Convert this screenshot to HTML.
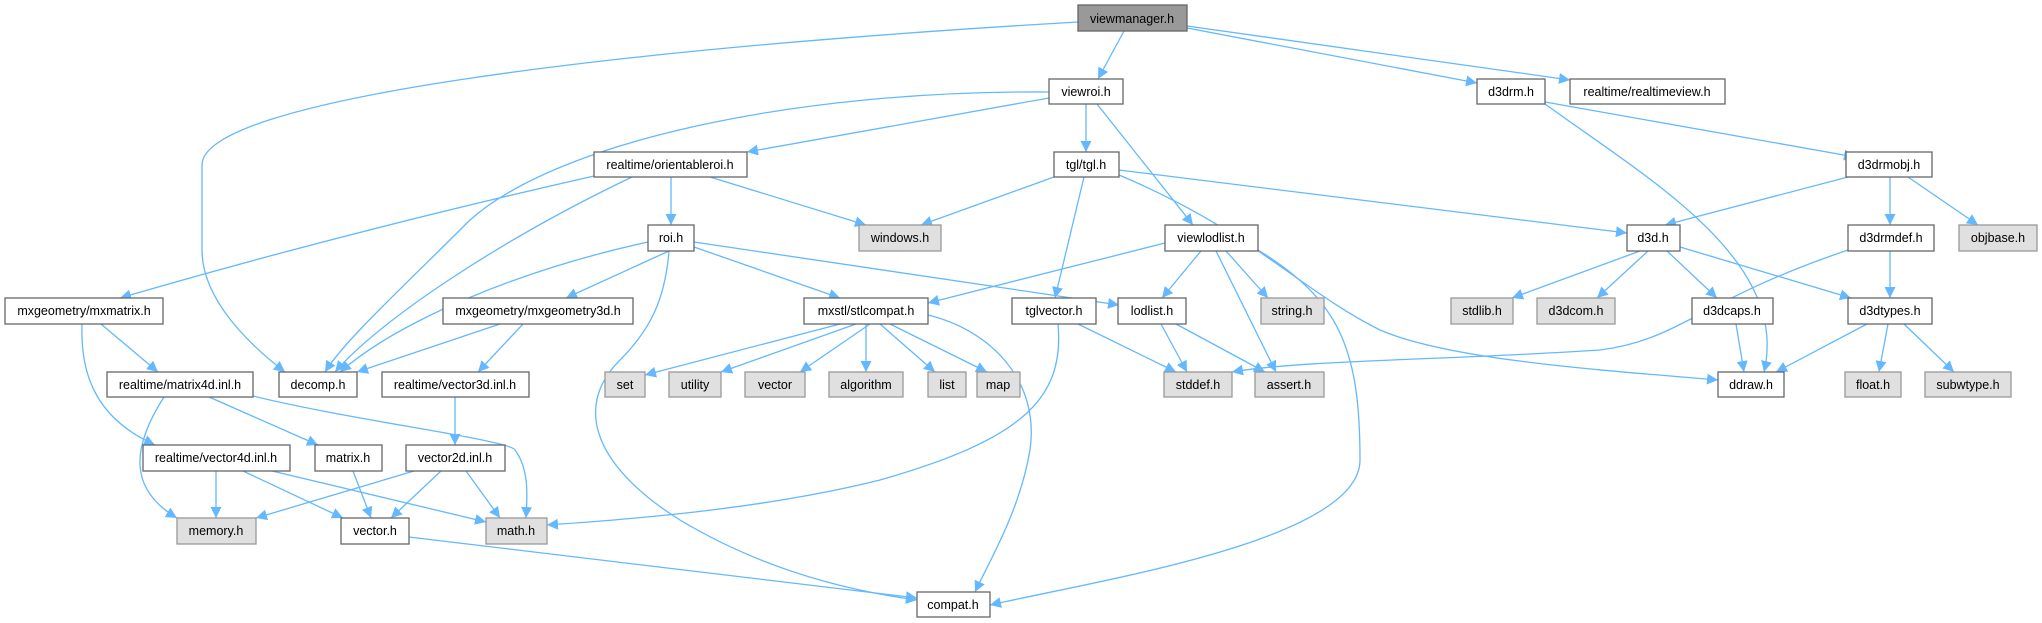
<!DOCTYPE html>
<html><head><meta charset="utf-8"><style>
body{margin:0;background:#fff;}
svg{display:block}
text{font-family:"Liberation Sans",Arial,sans-serif;font-size:12.5px;fill:#000;text-anchor:middle;}
.w{fill:#fff;stroke:#666;stroke-width:1.3}
.g{fill:#e0e0e0;stroke:#999;stroke-width:1.3}
.r{fill:#999;stroke:#666;stroke-width:1.3}
path.e{fill:none;stroke:#63b8ff;stroke-width:1.3;marker-end:url(#a)}
</style></head><body>
<svg width="2042" height="623" viewBox="0 0 2042 623" xmlns="http://www.w3.org/2000/svg">
<defs><marker id="a" viewBox="0 0 10 10" refX="10" refY="5" markerWidth="11" markerHeight="11" markerUnits="userSpaceOnUse" orient="auto"><path d="M0,0 L10,5 L0,10 z" fill="#63b8ff"/></marker></defs>
<g>
<path class="e" d="M1078,22 C600,50 202,100 202,165 L202,250 C202,300 250,345 285,372"/>
<path class="e" d="M1124,31 L1098,79"/>
<path class="e" d="M1187,28 L1477,83"/>
<path class="e" d="M1187,26 L1570,80"/>
<path class="e" d="M1049,92 C800,90 560,140 470,220 C400,290 345,340 325,372"/>
<path class="e" d="M1049,98 L747,152"/>
<path class="e" d="M1086,104 L1086,152"/>
<path class="e" d="M1097,104 L1193,225"/>
<path class="e" d="M1545,104 C1650,180 1790,260 1764,372"/>
<path class="e" d="M1545,102 L1855,157"/>
<path class="e" d="M1054,177 L921,225"/>
<path class="e" d="M1084,177 L1055,298"/>
<path class="e" d="M1119,170 L1627,233"/>
<path class="e" d="M1119,175 C1250,230 1300,290 1380,330 C1450,360 1600,370 1718,380"/>
<path class="e" d="M1848,177 L1665,225"/>
<path class="e" d="M1890,177 L1890,225"/>
<path class="e" d="M1908,177 L1978,225"/>
<path class="e" d="M594,176 C400,220 250,260 120,298"/>
<path class="e" d="M632,177 C500,240 380,320 335,372"/>
<path class="e" d="M671,177 L671,225"/>
<path class="e" d="M710,177 L866,225"/>
<path class="e" d="M648,242 C520,270 400,320 340,372"/>
<path class="e" d="M669,251 L566,298"/>
<path class="e" d="M694,247 L840,298"/>
<path class="e" d="M694,242 L1119,305"/>
<path class="e" d="M669,251 C665,300 650,330 620,360 C570,410 600,470 680,520 C780,580 880,595 917,600"/>
<path class="e" d="M1165,243 L928,303"/>
<path class="e" d="M1201,251 L1162,298"/>
<path class="e" d="M1226,251 L1268,298"/>
<path class="e" d="M1216,251 L1276,372"/>
<path class="e" d="M1258,250 C1340,300 1360,350 1360,460 C1360,540 1100,580 990,605"/>
<path class="e" d="M1640,251 L1512,298"/>
<path class="e" d="M1648,251 L1597,298"/>
<path class="e" d="M1667,251 L1717,298"/>
<path class="e" d="M1680,247 L1851,298"/>
<path class="e" d="M1848,250 C1700,300 1680,340 1600,350 C1450,360 1300,360 1232,372"/>
<path class="e" d="M1890,251 L1890,298"/>
<path class="e" d="M1736,324 L1744,372"/>
<path class="e" d="M1867,324 L1776,372"/>
<path class="e" d="M1888,324 L1879,372"/>
<path class="e" d="M1904,324 L1954,372"/>
<path class="e" d="M1078,324 L1176,372"/>
<path class="e" d="M1058,324 C1065,400 1020,440 880,480 C760,510 620,520 547,525"/>
<path class="e" d="M1161,324 L1187,372"/>
<path class="e" d="M1176,324 L1265,372"/>
<path class="e" d="M840,324 L645,375"/>
<path class="e" d="M856,324 L721,372"/>
<path class="e" d="M870,324 L800,372"/>
<path class="e" d="M866,324 L866,372"/>
<path class="e" d="M880,324 L935,372"/>
<path class="e" d="M890,324 L987,372"/>
<path class="e" d="M928,315 C990,330 1040,380 1030,450 C1020,510 990,560 975,592"/>
<path class="e" d="M101,324 L158,372"/>
<path class="e" d="M82,324 C80,380 100,420 155,445"/>
<path class="e" d="M164,397 C130,450 130,490 177,518"/>
<path class="e" d="M209,397 L318,445"/>
<path class="e" d="M253,396 C350,420 510,440 515,450 C530,470 527,500 526,518"/>
<path class="e" d="M500,324 L357,372"/>
<path class="e" d="M523,324 L478,372"/>
<path class="e" d="M455,397 L455,445"/>
<path class="e" d="M216,471 L216,518"/>
<path class="e" d="M243,471 L343,518"/>
<path class="e" d="M268,470 L486,522"/>
<path class="e" d="M353,471 L371,518"/>
<path class="e" d="M414,471 L256,518"/>
<path class="e" d="M441,471 L391,518"/>
<path class="e" d="M466,471 L500,518"/>
<path class="e" d="M409,537 L917,598"/>
</g>
<g>
<rect class="r" x="1078" y="5" width="109" height="26"/><text x="1132" y="23">viewmanager.h</text>
<rect class="w" x="1049" y="79" width="74" height="25"/><text x="1086" y="96">viewroi.h</text>
<rect class="w" x="1477" y="79" width="68" height="25"/><text x="1511" y="96">d3drm.h</text>
<rect class="w" x="1570" y="79" width="155" height="25"/><text x="1647" y="96">realtime/realtimeview.h</text>
<rect class="w" x="1054" y="152" width="65" height="25"/><text x="1086" y="169">tgl/tgl.h</text>
<rect class="w" x="1846" y="152" width="86" height="25"/><text x="1889" y="169">d3drmobj.h</text>
<rect class="w" x="594" y="152" width="153" height="25"/><text x="670" y="169">realtime/orientableroi.h</text>
<rect class="w" x="1165" y="225" width="93" height="26"/><text x="1211" y="242">viewlodlist.h</text>
<rect class="w" x="1627" y="225" width="53" height="26"/><text x="1653" y="242">d3d.h</text>
<rect class="w" x="1848" y="225" width="86" height="26"/><text x="1891" y="242">d3drmdef.h</text>
<rect class="g" x="1959" y="225" width="78" height="26"/><text x="1998" y="242">objbase.h</text>
<rect class="w" x="648" y="225" width="46" height="26"/><text x="671" y="242">roi.h</text>
<rect class="g" x="859" y="225" width="82" height="26"/><text x="900" y="242">windows.h</text>
<rect class="w" x="5" y="298" width="158" height="26"/><text x="84" y="315">mxgeometry/mxmatrix.h</text>
<rect class="w" x="443" y="298" width="190" height="26"/><text x="538" y="315">mxgeometry/mxgeometry3d.h</text>
<rect class="w" x="804" y="298" width="124" height="26"/><text x="866" y="315">mxstl/stlcompat.h</text>
<rect class="w" x="1012" y="298" width="84" height="26"/><text x="1054" y="315">tglvector.h</text>
<rect class="w" x="1118" y="298" width="68" height="26"/><text x="1152" y="315">lodlist.h</text>
<rect class="g" x="1261" y="298" width="63" height="26"/><text x="1292" y="315">string.h</text>
<rect class="g" x="1451" y="298" width="62" height="26"/><text x="1482" y="315">stdlib.h</text>
<rect class="g" x="1537" y="298" width="78" height="26"/><text x="1576" y="315">d3dcom.h</text>
<rect class="w" x="1692" y="298" width="81" height="26"/><text x="1732" y="315">d3dcaps.h</text>
<rect class="w" x="1848" y="298" width="84" height="26"/><text x="1890" y="315">d3dtypes.h</text>
<rect class="w" x="107" y="372" width="146" height="25"/><text x="180" y="389">realtime/matrix4d.inl.h</text>
<rect class="w" x="279" y="372" width="78" height="25"/><text x="318" y="389">decomp.h</text>
<rect class="w" x="382" y="372" width="147" height="25"/><text x="455" y="389">realtime/vector3d.inl.h</text>
<rect class="g" x="605" y="372" width="40" height="25"/><text x="625" y="389">set</text>
<rect class="g" x="669" y="372" width="52" height="25"/><text x="695" y="389">utility</text>
<rect class="g" x="745" y="372" width="60" height="25"/><text x="775" y="389">vector</text>
<rect class="g" x="829" y="372" width="74" height="25"/><text x="866" y="389">algorithm</text>
<rect class="g" x="928" y="372" width="38" height="25"/><text x="947" y="389">list</text>
<rect class="g" x="977" y="372" width="43" height="25"/><text x="998" y="389">map</text>
<rect class="g" x="1164" y="372" width="68" height="25"/><text x="1198" y="389">stddef.h</text>
<rect class="g" x="1255" y="372" width="69" height="25"/><text x="1289" y="389">assert.h</text>
<rect class="w" x="1718" y="372" width="66" height="25"/><text x="1751" y="389">ddraw.h</text>
<rect class="g" x="1845" y="372" width="56" height="25"/><text x="1873" y="389">float.h</text>
<rect class="g" x="1925" y="372" width="86" height="25"/><text x="1968" y="389">subwtype.h</text>
<rect class="w" x="143" y="445" width="147" height="26"/><text x="216" y="462">realtime/vector4d.inl.h</text>
<rect class="w" x="315" y="445" width="67" height="26"/><text x="348" y="462">matrix.h</text>
<rect class="w" x="406" y="445" width="99" height="26"/><text x="455" y="462">vector2d.inl.h</text>
<rect class="g" x="177" y="518" width="79" height="26"/><text x="216" y="535">memory.h</text>
<rect class="w" x="341" y="518" width="68" height="26"/><text x="375" y="535">vector.h</text>
<rect class="g" x="486" y="518" width="61" height="26"/><text x="516" y="535">math.h</text>
<rect class="w" x="917" y="592" width="73" height="25"/><text x="953" y="609">compat.h</text>
</g>
</svg>
</body></html>
